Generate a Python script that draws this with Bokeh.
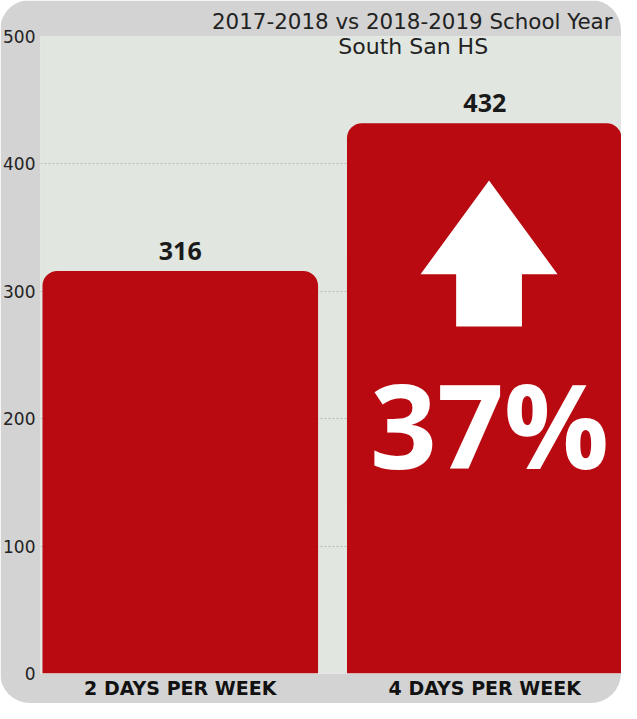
from bokeh.plotting import figure
from bokeh.models import Range1d, FixedTicker, Label, ColumnDataSource
from bokeh.core.properties import value
from bokeh.embed import file_html
from bokeh.resources import INLINE

categories = ["2 DAYS PER WEEK", "4 DAYS PER WEEK"]
counts = [316, 432]
y_ticks = [0, 100, 200, 300, 400, 500]
title_lines = ["2017-2018 vs 2018-2019 School Year", "South San HS"]
change_label = "37%"

NUM_FONT = "Open Sans"
TXT_FONT = "DejaVu Sans"
xs = list(range(len(categories)))

p = figure(width=621, height=703, output_backend="svg", toolbar_location=None,
           x_range=Range1d(-0.459, 1.449), y_range=Range1d(0, 500),
           min_border_left=40, min_border_right=0, min_border_top=36, min_border_bottom=30)
p.styles = {"border-radius": "30px", "overflow": "hidden"}
p.background_fill_color = "#e1e6e0"
p.border_fill_color = "#d3d3d3"
p.outline_line_color = None

# title (first line above the frame, second line inside it)
p.title.text = title_lines[0]
p.title.align = "right"
p.title.offset = 9
p.title.standoff = 2
p.title.vertical_align = "top"
p.title.text_font = TXT_FONT
p.title.text_font_style = "normal"
p.title.text_font_size = "21.4px"
p.title.text_color = "#222222"
p.add_layout(Label(x=0.765, y=492, text=title_lines[1], text_align="center",
                   text_baseline="middle", text_font=TXT_FONT, text_font_size="22px",
                   text_color="#222222"))

src = ColumnDataSource(dict(x=xs, top=counts, label=[str(c) for c in counts]))
p.vbar(x="x", top="top", width=0.905, source=src, fill_color="#b80a10",
       line_color=None, border_radius=(15, 15, 0, 0))
p.text(x="x", y="top", text="label", source=src, y_offset=-20, text_baseline="middle",
       text_align="center", text_font=value(NUM_FONT), text_font_style="bold",
       text_font_size="25px", text_color="#1a1a1a")

# up arrow and change label inside the second bar
cx = xs[1] + 0.014
hw, sw = 0.225, 0.108
ax = [cx, cx + hw, cx + sw, cx + sw, cx - sw, cx - sw, cx - hw]
ay = [387, 313.4, 313.4, 272.4, 272.4, 313.4, 313.4]
p.patch(ax, ay, fill_color="white", line_color=None)
p.text(x=[xs[1] + 0.016], y=[196.6], text=[change_label], text_align="center",
       text_baseline="middle", text_font=value(NUM_FONT), text_font_style="bold",
       text_font_size="117px", text_color="white")

p.xgrid.grid_line_color = None
p.ygrid.ticker = FixedTicker(ticks=y_ticks)
p.ygrid.grid_line_color = "#b9bdb9"
p.ygrid.grid_line_dash = "2 2"

p.yaxis.ticker = FixedTicker(ticks=y_ticks)
p.yaxis.axis_line_color = None
p.yaxis.major_tick_line_color = None
p.yaxis.minor_tick_line_color = None
p.yaxis.major_tick_out = 0
p.yaxis.major_tick_in = 0
p.yaxis.major_label_text_font = TXT_FONT
p.yaxis.major_label_text_font_size = "17px"
p.yaxis.major_label_text_color = "#222222"
p.yaxis.major_label_standoff = 5

p.xaxis.ticker = FixedTicker(ticks=xs)
p.xaxis.major_label_overrides = {i: c for i, c in zip(xs, categories)}
p.xaxis.axis_line_color = None
p.xaxis.major_tick_line_color = None
p.xaxis.minor_tick_line_color = None
p.xaxis.major_tick_out = 0
p.xaxis.major_tick_in = 0
p.xaxis.major_label_text_font = TXT_FONT
p.xaxis.major_label_text_font_style = "bold"
p.xaxis.major_label_text_font_size = "19px"
p.xaxis.major_label_text_color = "#111111"
p.xaxis.major_label_standoff = 3

open("out.html", "w").write(file_html(p, INLINE))
